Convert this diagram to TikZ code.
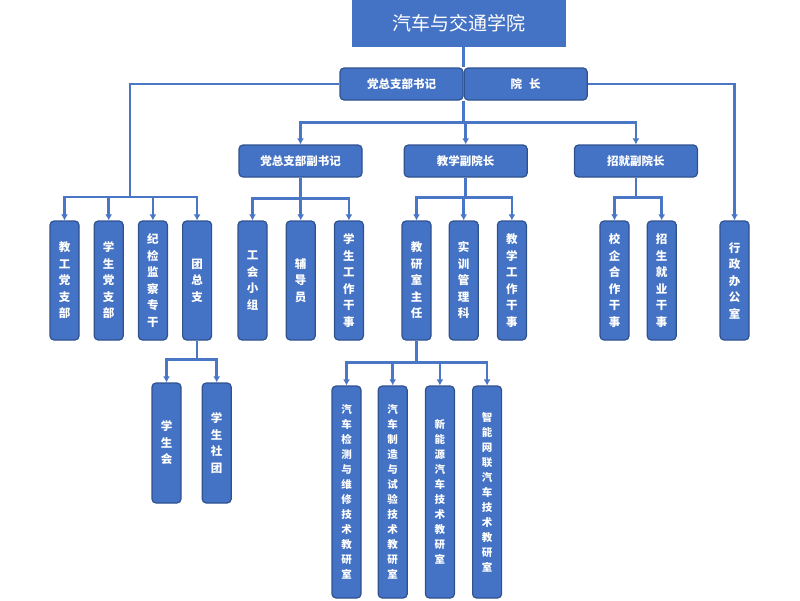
\documentclass[tikz,border=0pt]{standalone}
\usepackage{fontspec}
\usepackage{tikz}
\newfontfamily\cjk{Noto Sans CJK SC}
\definecolor{boxblue}{RGB}{68,114,196}
\definecolor{edgeblue}{RGB}{47,82,143}
\definecolor{lineblue}{RGB}{74,118,198}
\usetikzlibrary{arrows.meta, positioning, calc}

\begin{document}
\begin{tikzpicture}[x=1pt, y=-1pt,
    node distance=14pt,
    titlebox/.style={rectangle, fill=boxblue, minimum width=214pt, minimum height=47pt,
                     text=white, font=\cjk\fontsize{19}{22}\selectfont},
    headbox/.style={rectangle, draw=edgeblue, line width=1.2pt, fill=boxblue,
                    rounded corners=4pt, minimum width=123pt, minimum height=32pt,
                    inner sep=0pt, text=white, font=\cjk\bfseries\fontsize{11.5}{13}\selectfont},
    leafbox/.style={rectangle, draw=edgeblue, line width=1.2pt, fill=boxblue,
                    rounded corners=4pt, minimum width=29pt, minimum height=119pt,
                    text width=29pt, align=center, inner sep=0pt, text=white,
                    font=\cjk\bfseries\fontsize{11.5}{16.5}\selectfont},
    roombox/.style={leafbox, minimum height=212pt,
                    font=\cjk\bfseries\fontsize{10.5}{15}\selectfont},
    link/.style={draw=lineblue, line width=2.6pt},
    arrow/.style={link, -{Latex[length=6pt,width=7pt]}}
]
    \useasboundingbox (0,0) rectangle (800,600);

    \node[titlebox] (college) at (459,23.5) {汽车与交通学院};

    \node[headbox] (secretary) at (401.5,84) {党总支部书记};
    \node[headbox, right=0pt of secretary] (dean) {院\hspace{7pt}长};

    \node[headbox] (vicesec) at (300.5,161) {党总支部副书记};
    \node[headbox, right=41pt of vicesec] (teachvp) {教学副院长};
    \node[headbox, right=46pt of teachvp] (enrollvp) {招就副院长};

    % first row
    \node[leafbox] (staffparty) at (64.5,280.5) {教\\工\\党\\支\\部};
    \node[leafbox, right=of staffparty] (stuparty) {学\\生\\党\\支\\部};
    \node[leafbox, right=of stuparty] (discipline) {纪\\检\\监\\察\\专\\干};
    \node[leafbox, right=of discipline] (league) {团\\总\\支};

    \node[leafbox] (union) at (252.5,280.5) {工\\会\\小\\组};
    \node[leafbox, right=18pt of union] (counselor) {辅\\导\\员};
    \node[leafbox, right=18pt of counselor] (stuwork) {学\\生\\工\\作\\干\\事};

    \node[leafbox] (research) at (416.5,280.5) {教\\研\\室\\主\\任};
    \node[leafbox, right=17pt of research] (training) {实\\训\\管\\理\\科};
    \node[leafbox, right=18pt of training] (teachwork) {教\\学\\工\\作\\干\\事};

    \node[leafbox] (coop) at (614.5,280.5) {校\\企\\合\\作\\干\\事};
    \node[leafbox, right=17pt of coop] (enroll) {招\\生\\就\\业\\干\\事};

    \node[leafbox] (office) at (734.5,280.5) {行\\政\\办\\公\\室};

    % second row
    \node[leafbox, minimum height=120pt] (council) at (166.5,443) {学\\生\\会};
    \node[leafbox, minimum height=120pt, right=20pt of council] (clubs) {学\\生\\社\\团};

    \node[roombox] (room1) at (346.5,492) {汽\\车\\检\\测\\与\\维\\修\\技\\术\\教\\研\\室};
    \node[roombox, right=16pt of room1] (room2) {汽\\车\\制\\造\\与\\试\\验\\技\\术\\教\\研\\室};
    \node[roombox, right=17pt of room2] (room3) {新\\能\\源\\汽\\车\\技\\术\\教\\研\\室};
    \node[roombox, right=17pt of room3] (room4) {智\\能\\网\\联\\汽\\车\\技\\术\\教\\研\\室};

    % connectors
    \coordinate (seam) at (secretary.north east);
    \draw[link] (college.south -| seam) -- (seam);

    \coordinate (leftbar) at (130,197);
    \draw[link] (secretary.west) -| (leftbar);
    \foreach \leaf in {staffparty, stuparty, discipline, league}
        \draw[arrow] (leftbar) -| (\leaf.north);

    \draw[arrow] (dean.east) -| (office.north);

    \coordinate (midbar) at ($(secretary.south east)+(0,22)$);
    \draw[link] (secretary.south east) -- (midbar);
    \foreach \vp in {vicesec, teachvp, enrollvp}
        \draw[arrow] (midbar) -| (\vp.north);

    \coordinate (secbar) at ($(vicesec.south)+(0,21)$);
    \draw[link] (vicesec.south) -- (secbar);
    \foreach \leaf in {union, counselor, stuwork}
        \draw[arrow] (secbar) -| (\leaf.north);

    \coordinate (teachbar) at ($(teachvp.south)+(0,20)$);
    \draw[link] (teachvp.south) -- (teachbar);
    \foreach \leaf in {research, training, teachwork}
        \draw[arrow] (teachbar) -| (\leaf.north);

    \coordinate (enrollbar) at ($(enrollvp.south)+(0,20)$);
    \draw[link] (enrollvp.south) -- (enrollbar);
    \foreach \leaf in {coop, enroll}
        \draw[arrow] (enrollbar) -| (\leaf.north);

    \coordinate (leaguebar) at ($(league.south)+(0,19)$);
    \draw[link] (league.south) -- (leaguebar);
    \foreach \leaf in {council, clubs}
        \draw[arrow] (leaguebar) -| (\leaf.north);

    \coordinate (roombar) at ($(research.south)+(0,22)$);
    \draw[link] (research.south) -- (roombar);
    \foreach \room in {room1, room2, room3, room4}
        \draw[arrow] (roombar) -| (\room.north);
\end{tikzpicture}
\end{document}
